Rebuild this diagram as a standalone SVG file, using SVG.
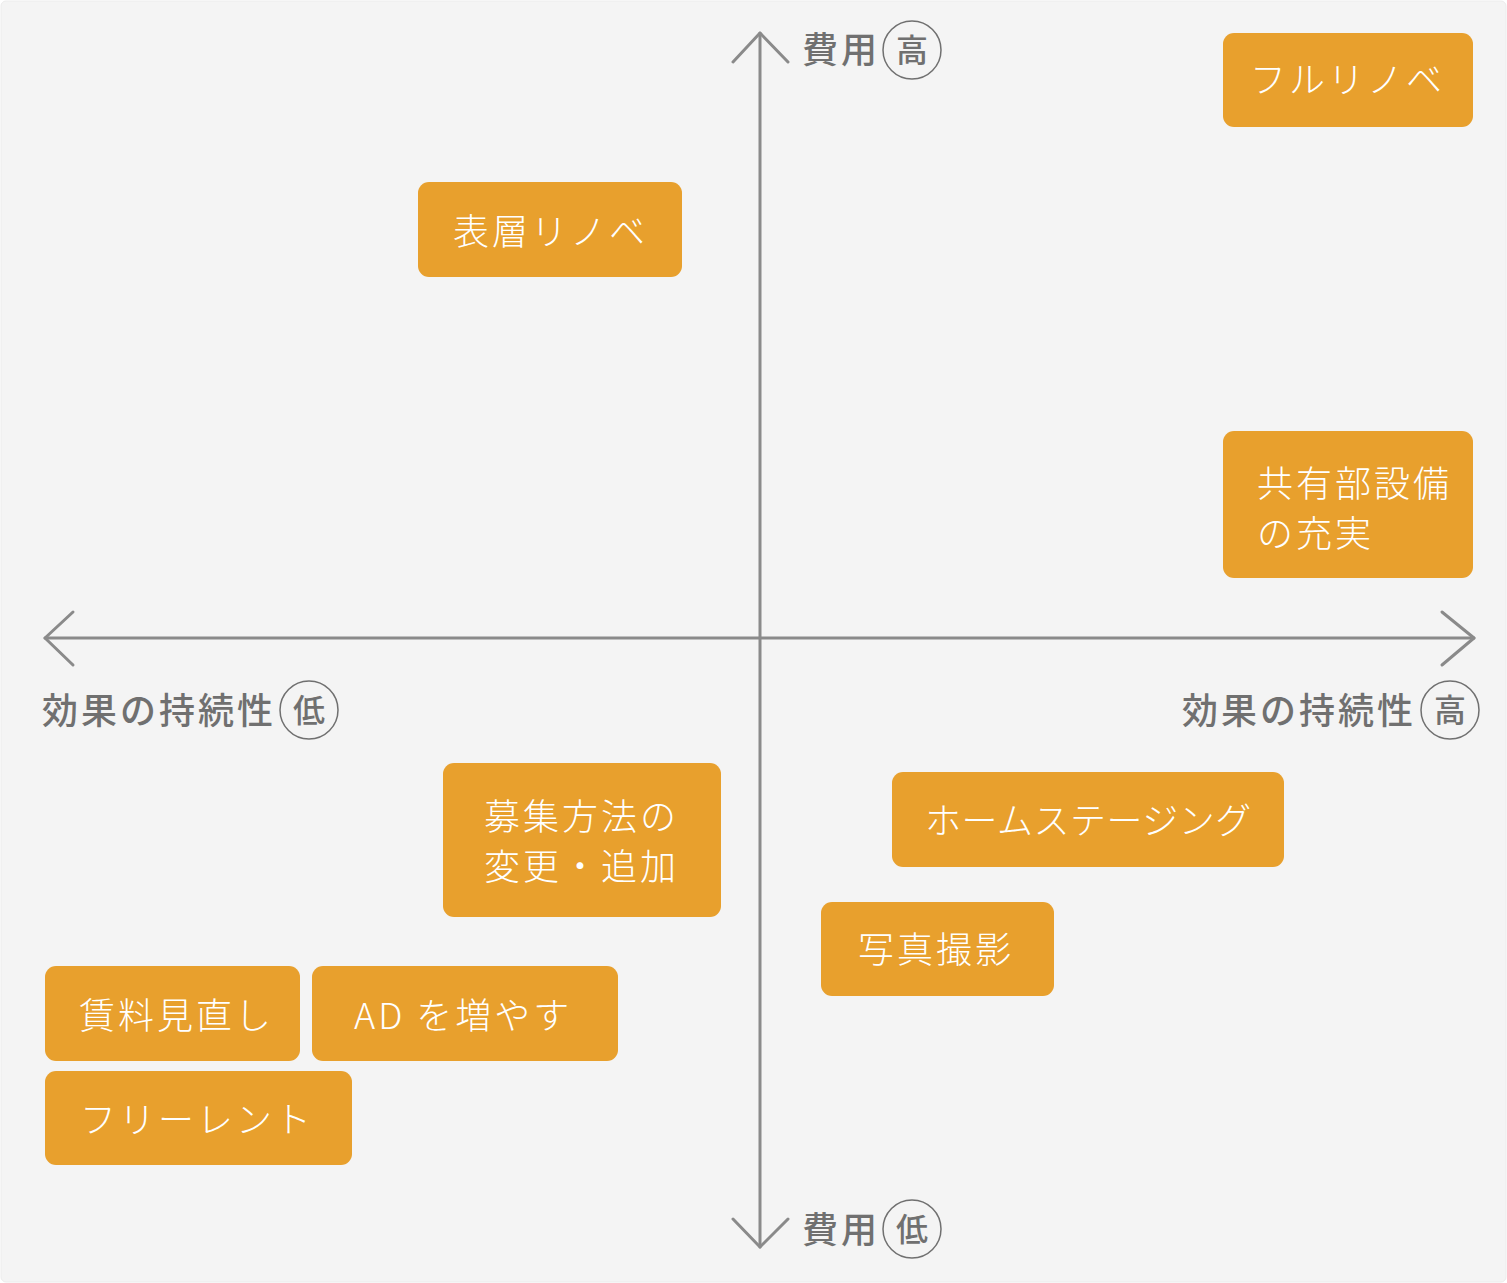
<svg xmlns="http://www.w3.org/2000/svg" width="1507" height="1283" viewBox="0 0 1507 1283">
<style>
.bg{fill:#f4f4f4;stroke:#ececec;stroke-width:1}
.box{fill:#e8a02d}
.bt{font-family:"Noto Sans CJK JP","Noto Sans",sans-serif;font-size:36px;font-weight:300;fill:#ffffff;letter-spacing:3px}
.ax{fill:none;stroke:#8a8a8a;stroke-width:3;stroke-linecap:round;stroke-linejoin:round}
.al{font-family:"Noto Sans CJK JP","Noto Sans",sans-serif;font-size:36px;font-weight:500;fill:#707070;letter-spacing:3px}
.cl{font-family:"Noto Sans CJK JP","Noto Sans",sans-serif;font-size:32px;font-weight:500;fill:#707070;text-anchor:middle}
.ci{fill:none;stroke:#707070;stroke-width:1.5}
</style>
<rect class="bg" x="1" y="1" width="1505" height="1281" rx="5"/>
<g id="axes">
<line class="ax" x1="760" y1="33" x2="760" y2="1247"/>
<polyline class="ax" points="733,62 760,33 788,62"/>
<polyline class="ax" points="733,1219 760,1247 788,1219"/>
<line class="ax" x1="45" y1="638" x2="1474" y2="638"/>
<polyline class="ax" points="73,612 45,638 73,665"/>
<polyline class="ax" points="1442,612 1474,638 1442,665"/>
</g>
<g id="label-cost-high">
<text class="al" x="802" y="63">費用</text>
<circle class="ci" cx="912" cy="50" r="29"/>
<text class="cl" x="912" y="62">高</text>
</g>
<g id="label-cost-low">
<text class="al" x="802" y="1243">費用</text>
<circle class="ci" cx="912" cy="1229" r="29"/>
<text class="cl" x="912" y="1241">低</text>
</g>
<g id="label-effect-low">
<text class="al" x="42" y="724">効果の持続性</text>
<circle class="ci" cx="309" cy="710" r="29"/>
<text class="cl" x="309" y="722">低</text>
</g>
<g id="label-effect-high">
<text class="al" x="1182" y="724">効果の持続性</text>
<circle class="ci" cx="1450" cy="710" r="29"/>
<text class="cl" x="1450" y="722">高</text>
</g>
<g id="node-full-renovation">
<rect class="box" x="1223" y="33" width="250" height="94" rx="11"/>
<text class="bt" x="1250" y="93">フルリノベ</text>
</g>
<g id="node-surface-renovation">
<rect class="box" x="418" y="182" width="264" height="95" rx="11"/>
<text class="bt" x="453" y="245">表層リノベ</text>
</g>
<g id="node-common-facilities">
<rect class="box" x="1223" y="431" width="250" height="147" rx="11"/>
<text class="bt" x="1257" y="497">共有部設備</text>
<text class="bt" x="1257" y="547">の充実</text>
</g>
<g id="node-recruit-method">
<rect class="box" x="443" y="763" width="278" height="154" rx="11"/>
<text class="bt" x="484" y="830">募集方法の</text>
<text class="bt" x="484" y="880">変更・追加</text>
</g>
<g id="node-home-staging">
<rect class="box" x="892" y="772" width="392" height="95" rx="11"/>
<text class="bt" x="925" y="834" style="letter-spacing:0.5px">ホームステージング</text>
</g>
<g id="node-photo">
<rect class="box" x="821" y="902" width="233" height="94" rx="11"/>
<text class="bt" x="858" y="963">写真撮影</text>
</g>
<g id="node-rent-review">
<rect class="box" x="45" y="966" width="255" height="95" rx="11"/>
<text class="bt" x="79" y="1029">賃料見直し</text>
</g>
<g id="node-ad-increase">
<rect class="box" x="312" y="966" width="306" height="95" rx="11"/>
<text class="bt" x="354" y="1029">AD を増やす</text>
</g>
<g id="node-free-rent">
<rect class="box" x="45" y="1071" width="307" height="94" rx="11"/>
<text class="bt" x="80" y="1133">フリーレント</text>
</g>
</svg>
